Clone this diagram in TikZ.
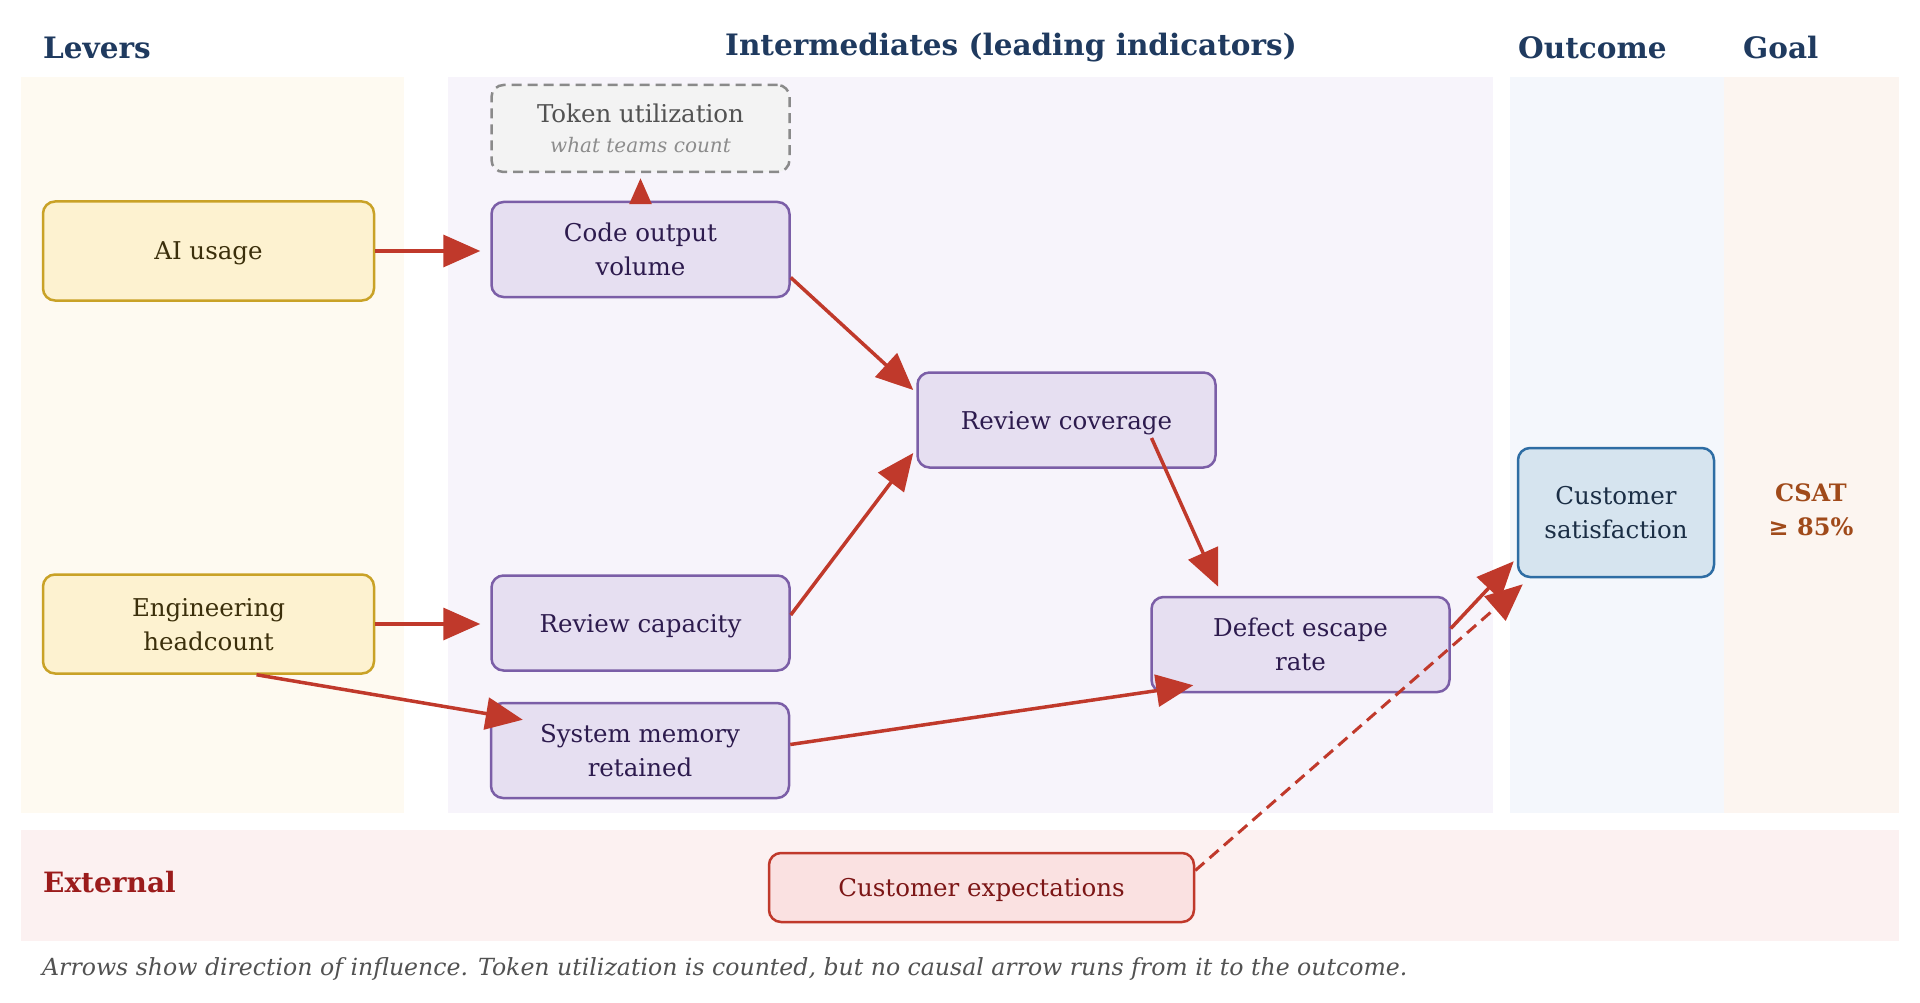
\documentclass[tikz,border=0pt]{standalone}
\usepackage{fontspec}
\setmainfont{DejaVu Serif}
\usepackage{xcolor}
\usetikzlibrary{arrows.meta,calc}
\definecolor{TitleNavy}{HTML}{1F3A5F}
\definecolor{ArrowRed}{HTML}{C0392B}
\definecolor{LeverBand}{HTML}{FEFAF1}
\definecolor{LeverFill}{HTML}{FDF2D0}
\definecolor{LeverEdge}{HTML}{C9A227}
\definecolor{LeverText}{HTML}{3B2F0B}
\definecolor{InterBand}{HTML}{F7F4FB}
\definecolor{InterFill}{HTML}{E6DFF1}
\definecolor{InterEdge}{HTML}{7B5EA7}
\definecolor{InterText}{HTML}{2D1B4E}
\definecolor{OutcomeBand}{HTML}{F4F7FC}
\definecolor{OutcomeFill}{HTML}{D6E4EF}
\definecolor{OutcomeEdge}{HTML}{2E6DA4}
\definecolor{OutcomeText}{HTML}{1B2E45}
\definecolor{GoalBand}{HTML}{FCF5F0}
\definecolor{GoalText}{HTML}{A04A1A}
\definecolor{ExtBand}{HTML}{FCF1F1}
\definecolor{ExtFill}{HTML}{FAE1E1}
\definecolor{ExtText}{HTML}{9B1C1C}
\definecolor{TokenFill}{HTML}{F3F3F3}
\definecolor{TokenEdge}{HTML}{8A8A8A}

\begin{document}
\begin{tikzpicture}[x=1pt, y=-1pt,
    box/.style={rounded corners=12pt, line width=2.5pt, inner sep=0pt, align=center, text depth=0pt,
        minimum width=298pt, minimum height=95pt, font=\fontsize{24.5}{34}\selectfont},
    lever/.style={box, draw=LeverEdge, fill=LeverFill, text=LeverText, minimum width=331pt, minimum height=99pt},
    inter/.style={box, draw=InterEdge, fill=InterFill, text=InterText},
    heading/.style={anchor=west, inner sep=0pt, text=TitleNavy, font=\fontsize{29.5}{34}\selectfont\bfseries},
    influence/.style={draw=ArrowRed, line width=3.5pt, -{Triangle[length=37pt,width=32pt]}}
]
    \useasboundingbox (0,0) rectangle (1920,1003);

    % Bands
    \fill[LeverBand] (21,77) rectangle (404,813);
    \fill[InterBand] (448,77) rectangle (1493,813);
    \fill[OutcomeBand] (1510,77) rectangle (1724,813);
    \fill[GoalBand] (1724,77) rectangle (1899,813);
    \fill[ExtBand] (21,830) rectangle (1899,941);

    % Headings
    \node[heading] (levershead) at (43,48) {Levers};
    \node[heading, anchor=center] (interhead) at (1011,48) {Intermediates (leading indicators)};
    \node[heading] (outcomehead) at (1518,48) {Outcome};
    \node[heading] (goalhead) at (1743,48) {Goal};

    % Levers
    \node[lever] (ai) at (208.5,251) {AI usage};
    \node[lever] (eng) at (208.5,624) {Engineering\\headcount};

    % Intermediates
    \node[box, draw=TokenEdge, fill=TokenFill, dash pattern=on 10pt off 6pt, minimum height=87pt, text=black!68] (token) at (640.5,128.5)
        {Token utilization\\[-4pt]{\fontsize{20}{24}\selectfont\itshape\color{black!45}what teams count}};
    \node[inter] (code) at (640.5,249.5) {Code output\\volume};
    \node[inter] (cov) at (1066.5,420) {Review coverage};
    \node[inter] (cap) at (640.5,623) {Review capacity};
    \node[inter] (mem) at (640,750.5) {System memory\\retained};
    \node[inter] (defect) at (1300.5,644.5) {Defect escape\\rate};

    % Outcome and goal
    \node[box, draw=OutcomeEdge, fill=OutcomeFill, text=OutcomeText, minimum width=196pt, minimum height=129pt] (cust) at (1616,512.5) {Customer\\satisfaction};
    \node[align=center, text=GoalText, font=\fontsize{24}{34}\selectfont\bfseries] (csat) at (1811,510) {CSAT\\≥ 85\%};

    % External
    \node[anchor=west, inner sep=0pt, text=ExtText, font=\fontsize{28}{32}\selectfont\bfseries] (exthead) at (43,882) {External};
    \node[box, draw=ArrowRed, fill=ExtFill, text=ExtText!80!black, minimum width=425pt, minimum height=69pt] (exp) at (981.5,887.5) {Customer expectations};

    % Influence arrows
    \draw[influence] (ai.east) -- ($(ai.east -| code.west)+(-10,0)$);
    \draw[influence] (eng.east) -- ($(eng.east -| cap.west)+(-10,0)$);
    \draw[influence] ($(eng.south)+(48,0)$) -- ($(mem.north west)+(33,18)$);
    \draw[influence] ($(code.east)+(0,28)$) -- ($(cov.west)+(-3,-30)$);
    \draw[influence] ($(cap.east)+(0,-8)$) -- ($(cov.west)+(-3,33)$);
    \draw[influence] ($(cov.center)+(85,18)$) -- ($(defect.north west)+(68,-9)$);
    \draw[influence] ($(mem.east)+(0,-6)$) -- ($(defect.south west)+(43,-8)$);
    \draw[influence] ($(defect.east)+(0,-16)$) -- ($(cust.south west)+(-3,-17)$);
    \draw[influence, dash pattern=on 12pt off 7pt, line width=3pt] ($(exp.east)+(0,-17)$) -- ($(cust.south west)+(6,6)$);
    \draw[draw=ArrowRed, line width=3pt, -{Triangle[length=26pt,width=22pt]}] (code.north) -- ($(token.south)+(0,5)$);

    % Note
    \node[anchor=west, inner sep=0pt, text=black!68, font=\fontsize{23.6}{28}\selectfont\itshape] (note) at (42,969)
        {Arrows show direction of influence. Token utilization is counted, but no causal arrow runs from it to the outcome.};
\end{tikzpicture}
\end{document}
